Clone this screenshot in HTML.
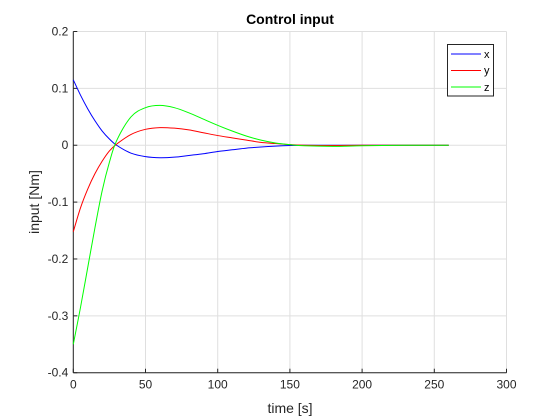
<!DOCTYPE html>
<html><head><meta charset="utf-8"><style>
body{margin:0;background:#fff;}
svg{display:block;font-family:"Liberation Sans",Arial,sans-serif;}
</style></head><body>
<svg id="chart" width="560" height="420" viewBox="0 0 560 420">
<rect width="560" height="420" fill="#fff"/>
<g id="grid"></g>
<g id="axes"></g>
<g id="series"></g>
<text x="290" y="24" text-anchor="middle" font-size="14" font-weight="bold" fill="#000">Control input</text>
<text x="290" y="413" text-anchor="middle" font-size="14" fill="#262626">time [s]</text>
<text transform="translate(39,202) rotate(-90)" text-anchor="middle" font-size="14" fill="#262626">input [Nm]</text>
<g>
<rect x="447.5" y="44.5" width="46" height="51.5" fill="#fff" stroke="#262626" stroke-width="1"/>
<line x1="451" y1="54" x2="481" y2="54" stroke="#0000ff"/>
<text x="484" y="58" font-size="11" fill="#000">x</text>
<line x1="451" y1="70.5" x2="481" y2="70.5" stroke="#ff0000"/>
<text x="484" y="74" font-size="11" fill="#000">y</text>
<line x1="451" y1="87" x2="481" y2="87" stroke="#00ff00"/>
<text x="484" y="91" font-size="11" fill="#000">z</text>
</g>
</svg>
<script>
const times=[0,5,10,15,20,25,30,40,50,60,70,80,90,100,110,120,130,140,150,160,180,200,230,260];
const seriesX=[0.115,0.088,0.064,0.043,0.025,0.011,0,-0.014,-0.020,-0.022,-0.021,-0.018,-0.015,-0.011,-0.008,-0.005,-0.003,-0.0015,-0.0005,0,0,0,0,0];
const seriesY=[-0.152,-0.11,-0.077,-0.05,-0.028,-0.01,0.002,0.019,0.028,0.031,0.030,0.027,0.022,0.017,0.013,0.009,0.005,0.003,0.001,0,-0.0005,0,0,0];
const seriesZ=[-0.35,-0.285,-0.215,-0.145,-0.08,-0.03,0.008,0.05,0.066,0.070,0.066,0.057,0.046,0.035,0.025,0.016,0.009,0.004,0.001,-0.001,-0.002,-0.001,0,0];
const xTicks=[0,50,100,150,200,250,300];
const yTicks=[0.2,0.1,0,-0.1,-0.2,-0.3,-0.4];
const yTickLabels=["0.2","0.1","0","-0.1","-0.2","-0.3","-0.4"];

const L=73.3,R=506.5,T=31.5,B=372.7;
const xs=v=>L+(v-0)/(300-0)*(R-L);
const ys=v=>T+(0.2-v)/(0.6)*(B-T);
const NS="http://www.w3.org/2000/svg";
function mk(tag,attrs,parent){const e=document.createElementNS(NS,tag);for(const k in attrs)e.setAttribute(k,attrs[k]);parent.appendChild(e);return e;}
const grid=document.getElementById('grid'),axes=document.getElementById('axes'),ser=document.getElementById('series');
xTicks.forEach(t=>{
  const gl=mk('line',{x1:xs(t),x2:xs(t),y1:T,y2:B,stroke:'#dfdfdf','stroke-width':1},grid);
  
  
  const tk=mk('line',{x1:xs(t),x2:xs(t),y1:B,y2:B-4,stroke:'#262626'},axes);
  
  
  const tx=mk('text',{x:xs(t),y:B+16,'text-anchor':'middle','font-size':12,fill:'#262626'},axes);
  tx.textContent=String(t);
  
  
});
yTicks.forEach((t,i)=>{
  const gl=mk('line',{x1:L,x2:R,y1:ys(t),y2:ys(t),stroke:'#dfdfdf','stroke-width':1},grid);
  
  
  const tk=mk('line',{x1:L,x2:L+4,y1:ys(t),y2:ys(t),stroke:'#262626'},axes);
  
  
  const tx=mk('text',{x:L-5,y:ys(t)+4,'text-anchor':'end','font-size':12,fill:'#262626'},axes);
  tx.textContent=yTickLabels[i];
  
  
});
const xa=mk('line',{x1:L,x2:R,y1:B,y2:B,stroke:'#262626'},axes);


const ya=mk('line',{x1:L,x2:L,y1:T,y2:B,stroke:'#262626'},axes);


function path(vals){
  const p=times.map((t,i)=>[xs(t),ys(vals[i])]);
  let d='M'+p[0][0]+','+p[0][1];
  for(let i=0;i<p.length-1;i++){
    const p0=p[i-1]||p[i],p1=p[i],p2=p[i+1],p3=p[i+2]||p[i+1];
    const c1=[p1[0]+(p2[0]-p0[0])/6,p1[1]+(p2[1]-p0[1])/6];
    const c2=[p2[0]-(p3[0]-p1[0])/6,p2[1]-(p3[1]-p1[1])/6];
    d+=' C'+c1+' '+c2+' '+p2;
  }
  return d;
}
[[seriesX,'#0000ff','series-x'],[seriesY,'#ff0000','series-y'],[seriesZ,'#00ff00','series-z']].forEach(([v,c,n])=>{
  const e=mk('path',{d:path(v),fill:'none',stroke:c,'stroke-width':1},ser);
  
  
});
</script>
</body></html>
